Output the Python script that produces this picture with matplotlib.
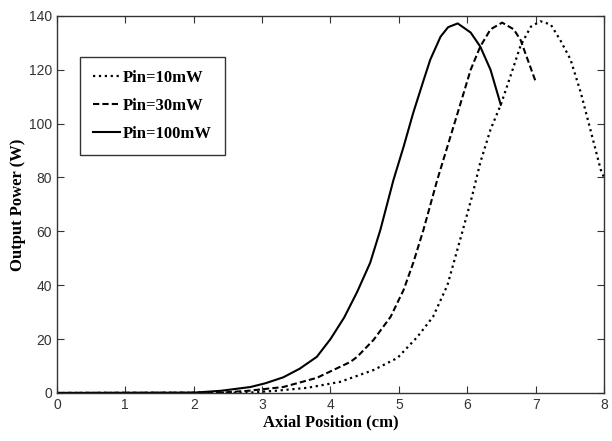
import matplotlib
matplotlib.use('Agg')
import matplotlib.pyplot as plt

x_10 = [0, 2.8, 3.2, 3.66, 4.14, 4.63, 4.98, 5.27, 5.5, 5.71, 5.82, 5.93, 6.07, 6.19, 6.34,
        6.49, 6.63, 6.78, 6.93, 7.07, 7.22, 7.36, 7.51, 7.66, 7.8, 7.95, 8.0]
y_10 = [0, 0.1, 0.8, 1.9, 4.1, 8.5, 13, 20.8, 28.3, 40, 50, 60, 73, 85.5, 97.8,
        107, 117.5, 129, 136, 138, 136.8, 131, 123.8, 111.5, 97.8, 83, 80]

x_30 = [0, 2.4, 2.8, 3.31, 3.8, 4.29, 4.39, 4.63, 4.88, 5.07, 5.21, 5.36, 5.56, 5.71,
        5.86, 6.05, 6.19, 6.34, 6.51, 6.68, 6.78, 6.9, 7.0]
y_30 = [0, 0.1, 0.8, 2.2, 5.6, 11.5, 13.4, 19.7, 28.3, 38.3, 48.3, 60.6, 79, 91.5,
        104, 120, 128.6, 135, 137.5, 135, 131, 122.6, 115.6]

x_100 = [0, 2.0, 2.4, 2.83, 3.05, 3.31, 3.55, 3.8, 4.0, 4.2, 4.39, 4.58, 4.73, 4.92, 5.07,
         5.21, 5.36, 5.46, 5.61, 5.72, 5.86, 6.05, 6.19, 6.34, 6.49]
y_100 = [0, 0.1, 0.8, 2.2, 3.6, 5.8, 9, 13.4, 20, 28, 37.5, 48.3, 60.6, 79, 91.5,
         104, 116, 123.8, 132.3, 135.8, 137.2, 133.8, 128.6, 120, 107]

labels = ['Pin=10mW', 'Pin=30mW', 'Pin=100mW']

fig = plt.figure(figsize=(6.12, 4.41), dpi=100)
ax = fig.add_axes([0.093, 0.109, 0.894, 0.855])

ax.plot(x_10, y_10, color='black', linestyle=':', linewidth=1.6, label=labels[0])
ax.plot(x_30, y_30, color='black', linestyle='--', dashes=(3, 1.5), linewidth=1.5, label=labels[1])
ax.plot(x_100, y_100, color='black', linestyle='-', linewidth=1.5, label=labels[2])

ax.set_xlim(0, 8)
ax.set_ylim(0, 140)
ax.set_xticks(range(0, 9))
ax.set_yticks(range(0, 141, 20))
ax.tick_params(direction='in', top=True, right=True, length=5, width=0.8,
               labelsize=10, colors='#333333', labelcolor='#333333')
for lbl in ax.get_xticklabels() + ax.get_yticklabels():
    lbl.set_family(['Liberation Sans Narrow', 'Liberation Sans', 'DejaVu Sans'])
for sp in ax.spines.values():
    sp.set_linewidth(1.0)
    sp.set_color('#333333')

ax.set_xlabel('Axial Position (cm)', family='Liberation Serif', fontweight='bold', fontsize=12, labelpad=2)
ax.set_ylabel('Output Power (W)', family='Liberation Serif', fontweight='bold', fontsize=12, labelpad=2)

leg = ax.legend(loc='upper left', bbox_to_anchor=(0.042, 0.891), borderaxespad=0, fancybox=False,
                edgecolor='black', handlelength=1.6, handletextpad=0.2, borderpad=0.8,
                labelspacing=0.7, prop={'family': 'Liberation Serif', 'weight': 'bold', 'size': 12})
leg.get_frame().set_linewidth(1.0)

fig.savefig('out.png', dpi=100)
